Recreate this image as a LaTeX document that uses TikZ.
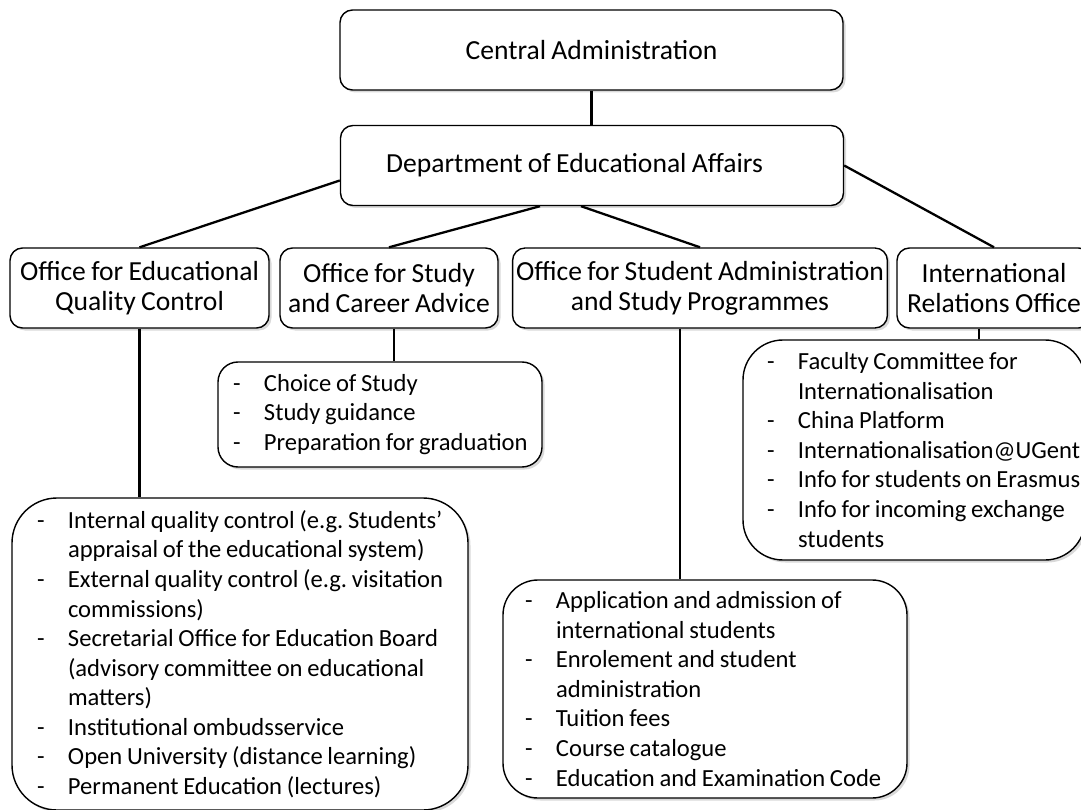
\documentclass[tikz,border=0pt]{standalone}
\usepackage{fontspec}
\setmainfont{Carlito}[WordSpace=0.85]
\usetikzlibrary{positioning, shadows}

% one list entry and its run-on line (font spacing, not the ragged one)
\newcommand{\itm}[1]{\mbox{\spaceskip=0pt\relax\makebox[0.62cm][l]{-}#1}}
\newcommand{\cnt}[1]{\mbox{\spaceskip=0pt\relax\hspace*{0.62cm}#1}}

\begin{document}
\begin{tikzpicture}[
      font=\fontsize{14}{16.8}\selectfont,
      unit/.style={draw, fill=white, line width=0.8pt, rounded corners=0.25cm,
                   minimum height=1.6cm, align=center, inner sep=2pt,
                   font=\fontsize{15.7}{17}\selectfont,
                   drop shadow={shadow xshift=0.05cm, shadow yshift=-0.05cm,
                                fill=black, opacity=0.15}},
      duties/.style={draw, fill=white, line width=0.8pt, align=left,
                     inner ysep=2pt,
                     drop shadow={shadow xshift=0.05cm, shadow yshift=-0.05cm,
                                  fill=black, opacity=0.15}},
      link/.style={line width=1.3pt}
    ]
  \useasboundingbox (0,0) rectangle (21.62,-16.2);

  % top of the tree
  \node[unit, minimum width=10.06cm] (ca)   at (11.83,-1.00) {Central Administration};
  \node[unit, minimum width=10.06cm] (dept) at (11.84,-3.31) {Department of Educational Affairs\hspace*{0.7cm}};

  % the four offices
  \node[unit, minimum width=5.18cm] (oq) at (2.79,-5.76)  {Office for Educational\\Quality Control};
  \node[unit, minimum width=4.36cm] (os) at (7.78,-5.76)  {Office for Study\\and Career Advice};
  \node[unit, minimum width=7.48cm] (oa) at (14.00,-5.76) {Office for Student Administration\\and Study Programmes};
  \node[unit, minimum width=3.88cm] (ir) at (19.88,-5.76) {International\\Relations Office};

  % what each office does
  \node[duties, rounded corners=0.9cm, inner xsep=0.5cm, text width=8.12cm,
        minimum height=6.24cm] (lq) at (4.80,-13.08) {%
    \itm{Internal quality control (e.g.\ Students'}\\
    \cnt{appraisal of the educational system)}\\
    \itm{External quality control (e.g.\ visitation}\\
    \cnt{commissions)}\\
    \itm{Secretarial Office for Education Board}\\
    \cnt{(advisory committee on educational}\\
    \cnt{matters)}\\
    \itm{Institutional ombudsservice}\\
    \itm{Open University (distance learning)}\\
    \itm{Permanent Education (lectures)}};
  \node[duties, rounded corners=0.4cm, inner xsep=0.3cm, text width=5.88cm,
        minimum height=2.1cm] (ls) at (7.60,-8.29) {%
    \itm{Choice of Study}\\
    \itm{Study guidance}\\
    \itm{Preparation for graduation}};
  \node[duties, rounded corners=0.7cm, inner xsep=0.44cm, text width=7.2cm,
        minimum height=4.36cm] (la) at (14.10,-13.78) {%
    \itm{Application and admission of}\\
    \cnt{international students}\\
    \itm{Enrolement and student}\\
    \cnt{administration}\\
    \itm{Tuition fees}\\
    \itm{Course catalogue}\\
    \itm{Education and Examination Code}};
  \node[duties, rounded corners=0.8cm, inner xsep=0.48cm, text width=5.88cm,
        minimum height=4.4cm] (li) at (18.28,-9.00) {%
    \itm{Faculty Committee for}\\
    \cnt{Internationalisation}\\
    \itm{China Platform}\\
    \itm{Internationalisation@UGent}\\
    \itm{Info for students on Erasmus}\\
    \itm{Info for incoming exchange}\\
    \cnt{students}};

  % connectors
  \draw[link] (ca.south) -- (ca.south |- dept.north);
  \draw[link] ([yshift=-0.3cm]dept.west) -- (oq.north);
  \draw[link] ([xshift=-1.04cm]dept.south) -- (os.north);
  \draw[link] ([xshift=-0.22cm]dept.south) -- (oa.north);
  \draw[link] (dept.east) -- (ir.north);

  \draw[link] (oq.south) -- (oq.south |- lq.north);
  \draw[link] ([xshift=0.1cm]os.south) -- ([xshift=0.1cm]os.south |- ls.north);
  \draw[link] ([xshift=-0.4cm]oa.south) -- ([xshift=-0.4cm]oa.south |- la.north);
  \draw[link] ([xshift=-0.3cm]ir.south) -- ([xshift=-0.3cm]ir.south |- li.north);
\end{tikzpicture}
\end{document}
